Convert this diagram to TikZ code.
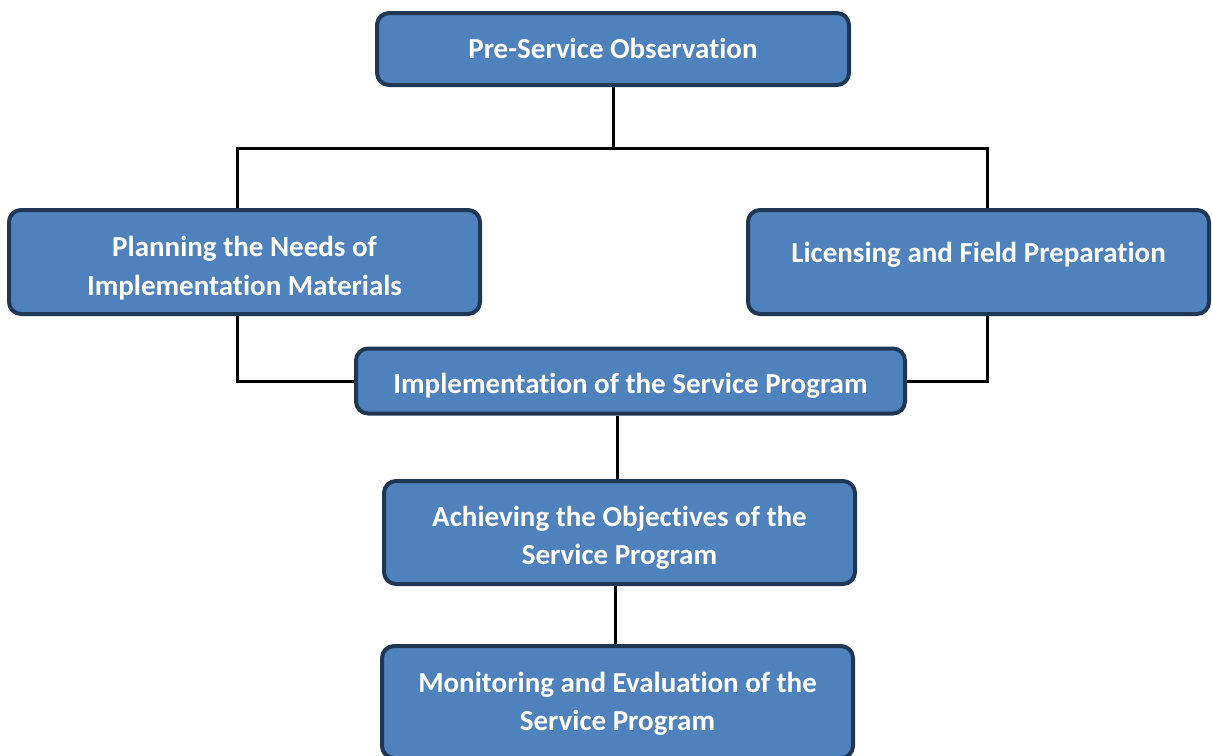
\documentclass[tikz,border=0pt]{standalone}
\usepackage{fontspec}
\setmainfont{Carlito}[Ligatures=NoCommon]
\usetikzlibrary{positioning}

\definecolor{boxfill}{RGB}{79,129,189}
\definecolor{boxline}{RGB}{32,55,84}

\begin{document}
\begin{tikzpicture}[x=0.5pt,y=-0.5pt,
	stage/.style={draw=boxline,fill=boxfill,line width=2pt,rounded corners=6pt,
		align=center,text=white,inner sep=0pt,
		font=\fontsize{14.5}{19.2}\selectfont\bfseries},
	drop/.style={text height=#1,text depth=0pt},
	link/.style={line width=1.5pt,black}]
\useasboundingbox (0,0) rectangle (1212,756);

	\node[stage,drop=9.3pt,minimum width=236pt,minimum height=36pt] (pre) at (613,49)
		{Pre-Service Observation};
	\node[stage,drop=33.3pt,minimum width=235.5pt,minimum height=52pt] (plan) at (244.5,262)
		{Planning the Needs of\\Implementation Materials};
	\node[stage,drop=0pt,minimum width=230.5pt,minimum height=52pt] (lic) at (978.5,262)
		{Licensing and Field Preparation};
	\node[stage,drop=12pt,minimum width=274.5pt,minimum height=32.5pt] (impl) at (630.5,381)
		{Implementation of the Service Program};
	\node[stage,drop=32.3pt,minimum width=235.5pt,minimum height=51.5pt] (ach) at (619.5,532.5)
		{Achieving the Objectives of the\\Service Program};
	\node[stage,drop=28.9pt,minimum width=235.5pt,minimum height=56pt] (mon) at (617.5,702)
		{Monitoring and Evaluation of the\\Service Program};

	\coordinate (split) at (613,148);
	\coordinate (lbus) at (237,148);
	\coordinate (rbus) at (987,148);

	\draw[link] (pre.south) -- (split);
	\draw[link] (lbus |- plan.north) -- (lbus) -- (rbus) -- (rbus |- lic.north);
	\draw[link] (lbus |- plan.south) |- (impl.west);
	\draw[link] (rbus |- lic.south) |- (impl.east);
	\draw[link] (ach.north -| 617,0) -- (impl.south -| 617,0);
	\draw[link] (mon.north -| 615,0) -- (ach.south -| 615,0);
\end{tikzpicture}
\end{document}
